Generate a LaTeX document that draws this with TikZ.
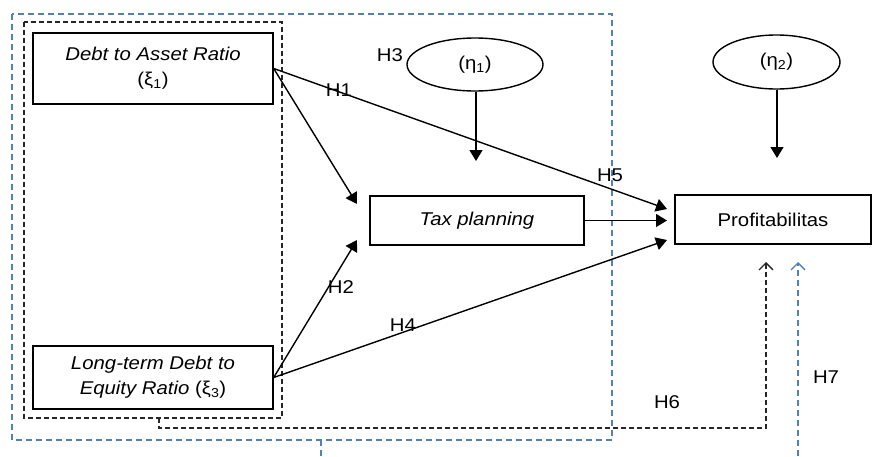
\documentclass[tikz,border=0pt]{standalone}
\usepackage{fontspec}
\setmainfont[FakeStretch=1.1]{Liberation Sans}
\usetikzlibrary{arrows.meta,shapes.geometric}
\definecolor{dblue}{RGB}{79,129,189}
\tikzset{
  box/.style={draw, line width=1.4pt, rectangle, inner sep=0pt, align=center, font=\fontsize{18.5}{25}\selectfont},
  lat/.style={draw, line width=1.4pt, ellipse, inner sep=0pt, font=\fontsize{18.5}{20}\selectfont},
  arr/.style={line width=1.4pt, -{Triangle[length=11pt,width=13pt]}},
  hlab/.style={font=\fontsize{18.5}{20}\selectfont, inner sep=0pt},
  bdash/.style={dash pattern=on 5pt off 3pt, line width=1.3pt, black!85},
  bluedash/.style={dash pattern=on 6pt off 4pt, line width=1.3pt, dblue},
}
\begin{document}
\begin{tikzpicture}[x=1pt,y=-1pt]
\useasboundingbox (0,0) rectangle (872,456);
% outer blue dashed frame
\draw[bluedash] (12,14) rectangle (612,440);
\draw[bluedash] (321,440) -- (321,456);
% inner black dashed frame
\draw[bdash] (24,22) rectangle (282,418);

\node[box, minimum width=240pt, minimum height=71pt] (x1) at (153,68.5)
  {\textit{Debt to Asset Ratio}\\(ξ\textsubscript{1})};
\node[box, minimum width=240pt, minimum height=63pt] (x3) at (153,377.5)
  {\textit{Long-term Debt to}\\\textit{Equity Ratio} (ξ\textsubscript{3})};
\node[box, minimum width=214pt, minimum height=49pt] (tax) at (477,220.5) {\textit{Tax planning}};
\node[box, minimum width=196pt, minimum height=49pt] (prof) at (773,219.5) {Profitabilitas};
\node[lat, minimum width=136pt, minimum height=53pt] (e1) at (475,64.5) {(η\textsubscript{1})};
\node[lat, minimum width=127pt, minimum height=54pt] (e2) at (776.5,62) {(η\textsubscript{2})};

\coordinate (t1) at (357,204);
\coordinate (t2) at (357,240);
\coordinate (p1) at (667,209);
\coordinate (p2) at (667,220.5);
\coordinate (p3) at (667,240);
\coordinate (m1) at (476,161);
\coordinate (m2) at (777,158);

\draw[arr] (x1.east) -- (t1);
\draw[arr] (x1.east) -- (p1);
\draw[arr] (x3.east) -- (t2);
\draw[arr] (x3.east) -- (p3);
\draw[arr] (tax.east) -- (p2);
\draw[arr] (e1.south -| m1) -- (m1);
\draw[arr] (e2.south -| m2) -- (m2);

% H6 dashed black and H7 dashed blue
\coordinate (h6a) at (159,418);
\coordinate (h6b) at (766,262);
\coordinate (h7a) at (798,456);
\coordinate (h7b) at (798,262);
\draw[bdash, -{Straight Barb[length=7pt,width=14pt]}] (h6a) -- (159,428) -| (h6b);
\draw[bluedash, -{Straight Barb[length=7pt,width=14pt]}] (h7a) -- (h7b);

\node[hlab] (H1) at (339,90) {H1};
\node[hlab] (H3) at (390,55) {H3};
\node[hlab] (H5) at (610,175) {H5};
\node[hlab] (H2) at (341,287) {H2};
\node[hlab] (H4) at (403,325) {H4};
\node[hlab] (H6) at (667,402) {H6};
\node[hlab] (H7) at (826,377) {H7};
\end{tikzpicture}
\end{document}
